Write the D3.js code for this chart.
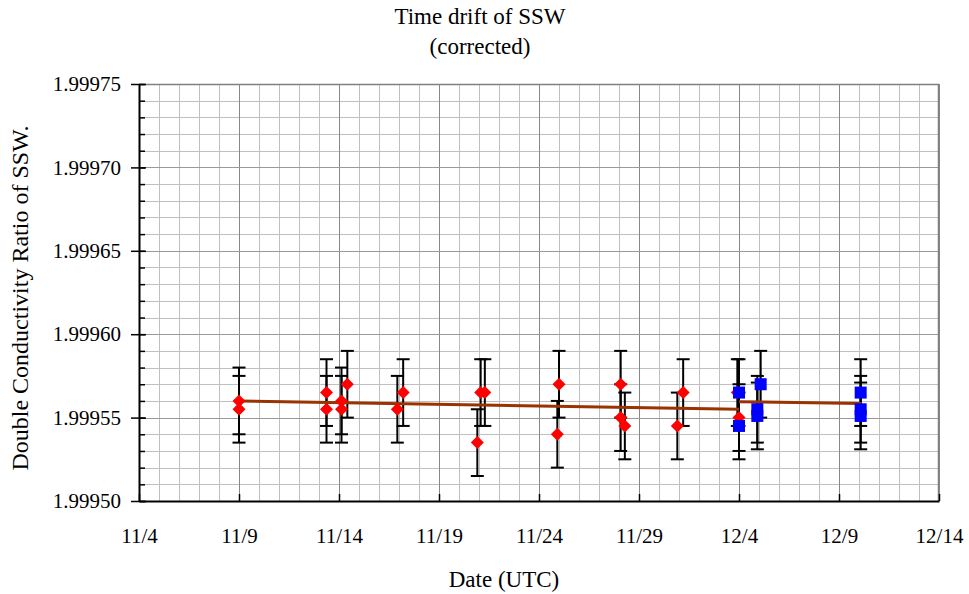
<!DOCTYPE html>
<html>
<head>
<meta charset="utf-8">
<script src="https://cdn.jsdelivr.net/npm/d3@7/dist/d3.min.js"></script>
<style>
  html, body { margin: 0; padding: 0; background: #fff; }
  svg { display: block; }
  text { font-family: "Liberation Serif", "Times New Roman", serif; fill: #000; }
</style>
</head>
<body>
<svg id="chart" width="969" height="594"></svg>
<script>
// ---- data ----
const redDates = ["2009-11-09T00:00","2009-11-09T00:00","2009-11-13T09:00","2009-11-13T09:00",
  "2009-11-14T03:00","2009-11-14T03:00","2009-11-14T10:00","2009-11-16T22:00","2009-11-17T05:00",
  "2009-11-20T22:00","2009-11-21T02:00","2009-11-21T07:00","2009-11-24T22:00","2009-11-25T00:00",
  "2009-11-28T02:00","2009-11-28T02:00","2009-11-28T07:00","2009-11-30T22:00","2009-12-01T05:00",
  "2009-12-03T22:00","2009-12-04T00:00"];
const redValues = [1.99956,1.999555,1.999565,1.999555,
  1.99956,1.999555,1.99957,1.999555,1.999565,
  1.999535,1.999565,1.999565,1.99954,1.99957,
  1.99957,1.99955,1.999545,1.999545,1.999565,
  1.999565,1.99955];
const blueDates = ["2009-12-04T00:00","2009-12-04T00:00","2009-12-05T02:00","2009-12-04T22:00",
  "2009-12-04T22:00","2009-12-10T02:00","2009-12-10T02:00","2009-12-10T02:00"];
const blueValues = [1.999565,1.999545,1.99957,1.999555,1.999551,1.999565,1.999555,1.999551];
const errorHalf = 0.00002;
const redTrendDates = ["2009-11-09T00:00","2009-12-04T00:00"];
const redTrendValues = [1.99956,1.999555];
const blueTrendDates = ["2009-12-04T00:00","2009-12-10T03:00"];
const blueTrendValues = [1.9995595,1.9995585];
const xTickDates = ["2009-11-04","2009-11-09","2009-11-14","2009-11-19","2009-11-24",
  "2009-11-29","2009-12-04","2009-12-09","2009-12-14"];
const yTickValues = [1.9995,1.99955,1.9996,1.99965,1.9997,1.99975];
const titleLines = ["Time drift of SSW","(corrected)"];
const xTitle = "Date (UTC)";
const yTitle = "Double Conductivity Ratio of SSW.";

// ---- layout ----
const P = {left: 139, right: 939, top: 84, bottom: 501};
const parse = s => new Date(s.length === 10 ? s + "T00:00Z" : s + "Z");
const svg = d3.select("#chart");

const x = d3.scaleUtc()
  .domain([parse(xTickDates[0]), parse(xTickDates[xTickDates.length - 1])])
  .range([P.left, P.right]);
const y = d3.scaleLinear().domain([1.9995, 1.99975]).range([P.bottom, P.top]);

// grid: minor
const dayTicks = d3.utcDay.range(x.domain()[0], d3.utcDay.offset(x.domain()[1], 1));
const yMinor = d3.range(0, 26).map(i => 1.9995 + i * 0.00001);
const g = svg.append("g");
g.selectAll("line.vx").data(dayTicks).join("line")
  .attr("x1", d => Math.round(x(d)) + 0.5).attr("x2", d => Math.round(x(d)) + 0.5)
  .attr("y1", P.top).attr("y2", P.bottom)
  .attr("stroke", "#c0c0c0").attr("stroke-width", 1);
g.selectAll("line.hy").data(yMinor).join("line")
  .attr("x1", P.left).attr("x2", P.right)
  .attr("y1", d => Math.round(y(d)) + 0.5).attr("y2", d => Math.round(y(d)) + 0.5)
  .attr("stroke", "#c0c0c0").attr("stroke-width", 1);
// grid: major
g.selectAll("line.mx").data(xTickDates.map(parse)).join("line")
  .attr("x1", d => Math.round(x(d)) + 0.5).attr("x2", d => Math.round(x(d)) + 0.5)
  .attr("y1", P.top).attr("y2", P.bottom)
  .attr("stroke", "#888888").attr("stroke-width", 1);
g.selectAll("line.my").data(yTickValues).join("line")
  .attr("x1", P.left).attr("x2", P.right)
  .attr("y1", d => Math.round(y(d)) + 0.5).attr("y2", d => Math.round(y(d)) + 0.5)
  .attr("stroke", "#999999").attr("stroke-width", 1);
// frame top/right
svg.append("line").attr("x1", P.left).attr("x2", P.right).attr("y1", P.top + 0.5).attr("y2", P.top + 0.5)
  .attr("stroke", "#808080").attr("stroke-width", 1.5);
svg.append("line").attr("x1", P.right - 0.5).attr("x2", P.right - 0.5).attr("y1", P.top).attr("y2", P.bottom)
  .attr("stroke", "#808080").attr("stroke-width", 1.5);

// axes
const fmtDate = d => (d.getUTCMonth() + 1) + "/" + d.getUTCDate();
const xAxis = d3.axisBottom(x).tickValues(xTickDates.map(parse)).tickFormat(fmtDate)
  .tickSizeInner(-7).tickSizeOuter(0).tickPadding(27);
const gx = svg.append("g").attr("transform", `translate(0,${P.bottom})`).call(xAxis);
gx.select(".domain").attr("stroke", "#000").attr("stroke-width", 2);
gx.selectAll(".tick line").attr("stroke", "#000").attr("stroke-width", 1.5);
gx.selectAll(".tick text").attr("font-size", 21).attr("font-family", "Liberation Serif");

const yAxisMinor = d3.axisLeft(y).tickValues(yMinor).tickFormat("").tickSizeInner(-6).tickSizeOuter(0);
const gym = svg.append("g").attr("transform", `translate(${P.left},0)`).call(yAxisMinor);
gym.select(".domain").remove();
gym.selectAll(".tick line").attr("stroke", "#000").attr("stroke-width", 1.5);

const yAxis = d3.axisLeft(y).tickValues(yTickValues).tickFormat(d3.format(".5f"))
  .tickSizeInner(8).tickSizeOuter(0).tickPadding(10);
const gy = svg.append("g").attr("transform", `translate(${P.left},0)`).call(yAxis);
gy.select(".domain").attr("stroke", "#000").attr("stroke-width", 2);
gy.selectAll(".tick line").attr("stroke", "#000").attr("stroke-width", 1.5).attr("x2", -8);
gy.selectAll(".tick").append("line").attr("x1", 0).attr("x2", 7).attr("stroke", "#000").attr("stroke-width", 1.5);
gy.selectAll(".tick text").attr("font-size", 21).attr("font-family", "Liberation Serif");

// data series
const red = redDates.map((d, i) => ({t: parse(d), v: redValues[i]}));
const blue = blueDates.map((d, i) => ({t: parse(d), v: blueValues[i]}));

function errorBars(data) {
  const eg = svg.append("g").attr("stroke", "#000").attr("stroke-width", 2);
  data.forEach(p => {
    const cx = x(p.t);
    eg.append("line").attr("x1", cx).attr("x2", cx).attr("y1", y(p.v + errorHalf)).attr("y2", y(p.v - errorHalf));
    [p.v + errorHalf, p.v - errorHalf].forEach(e => {
      eg.append("line").attr("x1", cx - 6.5).attr("x2", cx + 6.5).attr("y1", y(e)).attr("y2", y(e));
    });
  });
}
errorBars(red);
errorBars(blue);

// trend lines
const line = d3.line().x(d => x(d.t)).y(d => y(d.v));
svg.append("path")
  .datum(redTrendDates.map((d, i) => ({t: parse(d), v: redTrendValues[i]})))
  .attr("d", line).attr("fill", "none").attr("stroke", "#993300").attr("stroke-width", 3);
svg.append("path")
  .datum(blueTrendDates.map((d, i) => ({t: parse(d), v: blueTrendValues[i]})))
  .attr("d", line).attr("fill", "none").attr("stroke", "#993300").attr("stroke-width", 3);

// markers
svg.append("g").selectAll("path").data(red).join("path")
  .attr("transform", d => `translate(${x(d.t)},${y(d.v)})`)
  .attr("d", "M0,-6.5L6.5,0L0,6.5L-6.5,0Z")
  .attr("fill", "#ff0000");
svg.append("g").selectAll("rect").data(blue).join("rect")
  .attr("x", d => x(d.t) - 6).attr("y", d => y(d.v) - 6)
  .attr("width", 12).attr("height", 12)
  .attr("fill", "#0000ff");

// titles
svg.append("text").attr("x", 480).attr("y", 24).attr("text-anchor", "middle").attr("font-size", 23).text(titleLines[0]);
svg.append("text").attr("x", 480).attr("y", 54).attr("text-anchor", "middle").attr("font-size", 23).text(titleLines[1]);
svg.append("text").attr("x", 504).attr("y", 587).attr("text-anchor", "middle").attr("font-size", 23).text(xTitle);
svg.append("text").attr("transform", "translate(28,298) rotate(-90)").attr("text-anchor", "middle")
  .attr("font-size", 24).text(yTitle);
</script>
</body>
</html>
